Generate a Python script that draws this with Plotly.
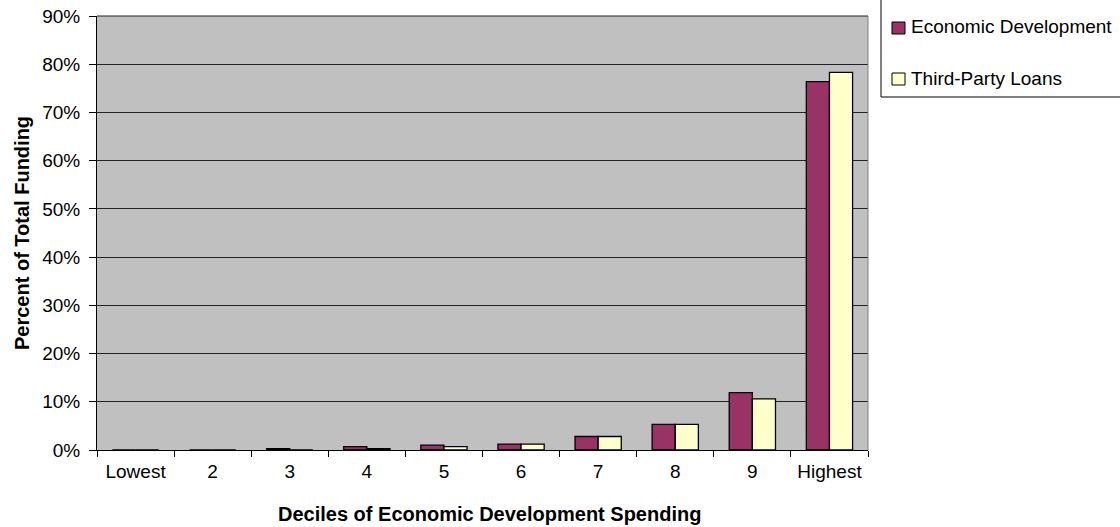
import plotly.graph_objects as go

categories = ["Lowest", "2", "3", "4", "5", "6", "7", "8", "9", "Highest"]
econ_dev = [0.0, 0.0, 0.3, 0.7, 1.0, 1.2, 2.8, 5.3, 11.9, 76.4]
third_party = [0.0, 0.0, 0.0, 0.3, 0.7, 1.2, 2.8, 5.3, 10.6, 78.3]
y_ticks = [0, 10, 20, 30, 40, 50, 60, 70, 80, 90]
y_tick_labels = ["0%", "10%", "20%", "30%", "40%", "50%", "60%", "70%", "80%", "90%"]

FONT = "Liberation Sans, Arial, sans-serif"
W, H = 1120, 527
# plot area in screen pixels
L, R, T, B = 97, 868, 16, 450

def px(x):
    return (x - L) / (R - L)

def py(y):
    return (B - y) / (B - T)

fig = go.Figure()
fig.add_trace(go.Bar(x=categories, y=econ_dev, name="Economic Development",
                     marker=dict(color="#993366", line=dict(color="black", width=1.3)),
                     showlegend=False))
fig.add_trace(go.Bar(x=categories, y=third_party, name="Third-Party Loans",
                     marker=dict(color="#FFFFCC", line=dict(color="black", width=1.3)),
                     showlegend=False))

fig.update_layout(
    width=W, height=H,
    margin=dict(l=L, r=W - R, t=T, b=H - B),
    paper_bgcolor="white", plot_bgcolor="#C0C0C0",
    barmode="group", bargap=0.4, bargroupgap=0,
    font=dict(family=FONT, size=19, color="black"),
    xaxis=dict(type="category", tickson="boundaries", ticks="outside", ticklen=6,
               tickcolor="black", showline=True, linecolor="black", linewidth=1,
               showgrid=False, tickfont=dict(size=19), automargin=False,
               ticklabelstandoff=4),
    yaxis=dict(range=[0, 90], tickvals=y_ticks, ticktext=y_tick_labels,
               ticks="outside", ticklen=7, tickcolor="black", showline=True,
               linecolor="black", linewidth=1, showgrid=True, gridcolor="#222222",
               gridwidth=1, zeroline=False, tickfont=dict(size=19), automargin=False,
               ticklabelstandoff=5, ticklabeloverflow="allow"),
)

# axis titles
fig.add_annotation(text="<b>Percent of Total Funding</b>", xref="paper", yref="paper",
                   x=px(22), y=py(233), xanchor="center", yanchor="middle",
                   textangle=-90, showarrow=False, font=dict(size=20, family=FONT))
fig.add_annotation(text="<b>Deciles of Economic Development Spending</b>",
                   xref="paper", yref="paper", x=px(489), y=py(514),
                   xanchor="center", yanchor="middle", showarrow=False,
                   font=dict(size=20, family=FONT))

# plot area top gridline and right border
fig.add_shape(type="line", xref="paper", yref="paper", x0=0, x1=1, y0=1, y1=1,
              line=dict(color="#222222", width=1))
fig.add_shape(type="line", xref="paper", yref="paper", x0=1, x1=1, y0=0, y1=1,
              line=dict(color="#808080", width=1))

# legend (manual)
fig.add_shape(type="rect", xref="paper", yref="paper",
              x0=px(881), x1=px(1130), y0=py(97), y1=py(-2),
              line=dict(color="black", width=1), fillcolor="white")
legend_items = [("Economic Development", "#993366", 28), ("Third-Party Loans", "#FFFFCC", 79)]
for name, col, yc in legend_items:
    fig.add_shape(type="rect", xref="paper", yref="paper",
                  x0=px(892), x1=px(905), y0=py(yc + 6), y1=py(yc - 6),
                  line=dict(color="black", width=1), fillcolor=col)
    fig.add_annotation(text=name, xref="paper", yref="paper", x=px(909), y=py(yc - 1),
                       xanchor="left", yanchor="middle", showarrow=False,
                       font=dict(size=19, family=FONT))

fig.write_html("out.html", config={"displayModeBar": False},
               post_script="document.body.style.margin='0';")
